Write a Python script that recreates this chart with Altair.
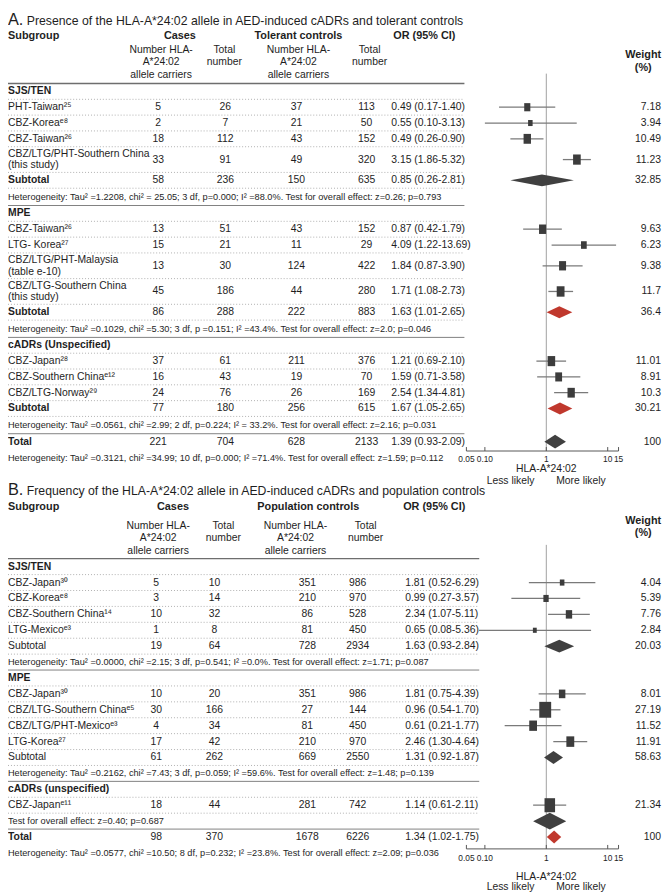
import altair as alt
import pandas as pd

# ======================= values =======================
A_letter = "A."
A_title = "Presence of the HLA-A*24:02 allele in AED-induced cADRs and tolerant controls"
A_ctrl_name = "Tolerant controls"
A_kind = ["group", "study", "study", "study", "study", "sub", "het",
          "group", "study", "study", "study", "study", "sub", "het",
          "group", "study", "study", "study", "sub", "het",
          "total", "het"]
A_label = [
    "SJS/TEN", "PHT-Taiwan²⁵", "\u00a0CBZ-Koreaᵉ⁸", "CBZ-Taiwan²⁶",
    "CBZ/LTG/PHT-Southern China\n\u00a0(this study)", "Subtotal",
    "Heterogeneity: Tau² =1.2208, chi² = 25.05; 3 df, p=0.000; I² =88.0%. Test for overall effect: z=0.26; p=0.793",
    "MPE", "CBZ-Taiwan²⁶", "LTG- Korea²⁷", "CBZ/LTG/PHT-Malaysia\n\u00a0(table e-10)",
    "CBZ/LTG-Southern China\n\u00a0(this study)", "Subtotal",
    "Heterogeneity: Tau² =0.1029, chi² =5.30; 3 df, p =0.151; I² =43.4%. Test for overall effect: z=2.0; p=0.046",
    "cADRs (Unspecified)", "CBZ-Japan²⁸", "CBZ-Southern Chinaᵉ¹²", "CBZ/LTG-Norway²⁹", "Subtotal",
    "Heterogeneity: Tau² =0.0561, chi² =2.99; 2 df, p=0.224; I² = 33.2%. Test for overall effect: z=2.16; p=0.031",
    "Total",
    "Heterogeneity: Tau² =0.3121, chi² =34.99; 10 df, p=0.000; I² =71.4%. Test for overall effect: z=1.59; p=0.112",
]
A_case_carriers = ["", "5", "2", "18", "33", "58", "", "", "13", "15", "13", "45", "86", "",
                   "", "37", "16", "24", "77", "", "221", ""]
A_case_total = ["", "26", "7", "112", "91", "236", "", "", "51", "21", "30", "186", "288", "",
                "", "61", "43", "76", "180", "", "704", ""]
A_ctrl_carriers = ["", "37", "21", "43", "49", "150", "", "", "43", "11", "124", "44", "222", "",
                   "", "211", "19", "26", "256", "", "628", ""]
A_ctrl_total = ["", "113", "50", "152", "320", "635", "", "", "152", "29", "422", "280", "883", "",
                "", "376", "70", "169", "615", "", "2133", ""]
A_or = [None, 0.49, 0.55, 0.49, 3.15, 0.85, None, None, 0.87, 4.09, 1.84, 1.71, 1.63, None,
        None, 1.21, 1.59, 2.54, 1.67, None, 1.39, None]
A_lo = [None, 0.17, 0.10, 0.26, 1.86, 0.26, None, None, 0.42, 1.22, 0.87, 1.08, 1.01, None,
        None, 0.69, 0.71, 1.34, 1.05, None, 0.93, None]
A_hi = [None, 1.40, 3.13, 0.90, 5.32, 2.81, None, None, 1.79, 13.69, 3.90, 2.73, 2.65, None,
        None, 2.10, 3.58, 4.81, 2.65, None, 2.09, None]
A_weight = ["", "7.18", "3.94", "10.49", "11.23", "32.85", "", "", "9.63", "6.23", "9.38", "11.7", "36.4", "",
            "", "11.01", "8.91", "10.3", "30.21", "", "100", ""]

B_letter = "B."
B_title = "Frequency of the HLA-A*24:02 allele in AED-induced cADRs and population controls"
B_ctrl_name = "Population controls"
B_kind = ["group", "study", "study", "study", "study", "sub", "het",
          "group", "study", "study", "study", "study", "sub", "het",
          "group", "study", "hetpool", "total", "het"]
B_label = [
    "SJS/TEN", "CBZ-Japan³⁰", "\u00a0CBZ-Koreaᵉ⁸", "CBZ-Southern China¹⁴", "LTG-Mexicoᵉ³", "\u00a0Subtotal",
    "\u00a0Heterogeneity: Tau² =0.0000, chi² =2.15; 3 df, p=0.541; I² =0.0%. Test for overall effect: z=1.71; p=0.087",
    "MPE", "CBZ-Japan³⁰", "CBZ/LTG-Southern Chinaᵉ⁵", "CBZ/LTG/PHT-Mexicoᵉ³", "\u00a0LTG-Korea²⁷", "\u00a0Subtotal",
    "Heterogeneity: Tau² =0.2162, chi² =7.43; 3 df, p=0.059; I² =59.6%. Test for overall effect: z=1.48; p=0.139",
    "cADRs (unspecified)", "CBZ-Japanᵉ¹¹",
    "\u00a0Test for overall effect: z=0.40; p=0.687",
    "Total",
    "\u00a0Heterogeneity: Tau² =0.0577, chi² =10.50; 8 df, p=0.232; I² =23.8%. Test for overall effect: z=2.09; p=0.036",
]
B_case_carriers = ["", "5", "3", "10", "1", "19", "", "", "10", "30", "4", "17", "61", "",
                   "", "18", "", "98", ""]
B_case_total = ["", "10", "14", "32", "8", "64", "", "", "20", "166", "34", "42", "262", "",
                "", "44", "", "370", ""]
B_ctrl_carriers = ["", "351", "210", "86", "81", "728", "", "", "351", "27", "81", "210", "669", "",
                   "", "281", "", "1678", ""]
B_ctrl_total = ["", "986", "970", "528", "450", "2934", "", "", "986", "144", "450", "970", "2550", "",
                "", "742", "", "6226", ""]
B_or = [None, 1.81, 0.99, 2.34, 0.65, 1.63, None, None, 1.81, 0.96, 0.61, 2.46, 1.31, None,
        None, 1.14, 1.14, 1.34, None]
B_lo = [None, 0.52, 0.27, 1.07, 0.08, 0.93, None, None, 0.75, 0.54, 0.21, 1.30, 0.92, None,
        None, 0.61, 0.61, 1.02, None]
B_hi = [None, 6.29, 3.57, 5.11, 5.36, 2.84, None, None, 4.39, 1.70, 1.77, 4.64, 1.87, None,
        None, 2.11, 2.11, 1.75, None]
B_weight = ["", "4.04", "5.39", "7.76", "2.84", "20.03", "", "", "8.01", "27.19", "11.52", "11.91", "58.63", "",
            "", "21.34", "", "100", ""]

hdr_subgroup = "Subgroup"
hdr_cases = "Cases"
hdr_or = "OR (95% CI)"
hdr_carriers = ["Number HLA-", "A*24:02", "allele carriers"]
hdr_total = ["Total", "number"]
hdr_weight = ["Weight", "(%)"]

axis_ticks = [0.05, 0.1, 1, 10, 15]
axis_tick_labels = ["0.05", "0.10", "1", "10", "15"]
axis_title = "HLA-A*24:02"
axis_left = "Less likely"
axis_right = "More likely"

# ======================= layout / style =======================
W, H = 662, 888
FONT = "Liberation Sans"
TXT = "#1e1e1e"
ROW_FS, HET_FS, HDR_FS, TITLE_FS = 10.5, 9.3, 11, 12.4
LINE_GAP = 12

yscale = alt.Scale(domain=[0, H], range=[0, H])
xscale = alt.Scale(type="log", domain=[0.05, 15], range=[464, 618], nice=False)

STYLE = {
    "A": dict(letter=A_letter, title=A_title, ctrl=A_ctrl_name, title_y=7, hdr_y=23, sub_y=[37, 49.5, 62],
              w_y=[42, 55], top=71, h1=16, h2=26, hh=17.5, line_end=462,
              cols=[152, 220, 292, 363], hcols=[155, 219, 294, 366], cases_x=174, ctrl_x=294,
              or_x=388, or_hx=390, sub_bold=True,
              diamond={"sub": 6, "total": 7}, axis_gap=9.5, tick_lab=8, ax_title=18, ax_sub=30, ref_top=61),
    "B": dict(letter=B_letter, title=B_title, ctrl=B_ctrl_name, title_y=483, hdr_y=500, sub_y=[519, 531.5, 544],
              w_y=[514, 526], top=552, h1=16.1, h2=26, hh=16.1, line_end=477,
              cols=[150, 209, 303, 354], hcols=[152, 218, 291, 362], cases_x=167, ctrl_x=304,
              or_x=402, or_hx=400, sub_bold=False,
              diamond={"sub": 6.5, "hetpool": 8.5, "total": 6.5}, axis_gap=12, tick_lab=9, ax_title=28, ax_sub=39,
              ref_top=538),
}
PANELS = {
    "A": (A_kind, A_label, A_case_carriers, A_case_total, A_ctrl_carriers, A_ctrl_total, A_or, A_lo, A_hi, A_weight),
    "B": (B_kind, B_label, B_case_carriers, B_case_total, B_ctrl_carriers, B_ctrl_total, B_or, B_lo, B_hi, B_weight),
}


def Y(f="y"):
    return alt.Y(f"{f}:Q", scale=yscale, axis=None)


def X(f):
    return alt.X(f"{f}:Q", scale=xscale, axis=None)


def fixed_text(text, x, y, size=ROW_FS, bold=False, align="left"):
    return alt.Chart(pd.DataFrame({"t": [text]})).mark_text(
        align=align, baseline="middle", font=FONT, fontSize=size,
        fontWeight="bold" if bold else "normal", color=TXT
    ).encode(x=alt.value(x), y=alt.value(y), text="t:N")


back_layers, mark_layers, text_layers = [], [], []

for P, (kind, label, c1, c2, c3, c4, orv, lo, hi, wt) in PANELS.items():
    st = STYLE[P]
    rows, lines, seps, bars, pts, dia = [], [], [], [], [], []
    ytop = st["top"]
    for i, k in enumerate(kind):
        parts = label[i].split("\n")
        n = len(parts)
        h = st["hh"] if k.startswith("het") else (st["h2"] if n > 1 else st["h1"])
        yc = ytop + h / 2
        ybot = ytop + h
        ytop = ybot
        bold = k in ("group", "total") or (k == "sub" and st["sub_bold"])
        for j, s in enumerate(parts):
            lines.append(dict(y=yc + (j - (n - 1) / 2) * LINE_GAP, t=s,
                              style="het" if k.startswith("het") else ("bold" if bold else "normal")))
        ortxt = ""
        if orv[i] is not None and k in ("study", "sub", "total"):
            ortxt = f"{orv[i]:.2f} ({lo[i]:.2f}-{hi[i]:.2f})"
        rows.append(dict(y=yc, c1=c1[i], c2=c2[i], c3=c3[i], c4=c4[i], ort=ortxt, w=wt[i]))
        last = i == len(kind) - 1
        if not last and k != "total":
            seps.append(dict(y=ybot, kind="solid" if k.startswith("het") else "dot"))
        if orv[i] is not None:
            if k == "study":
                bars.append(dict(y=yc, lo=lo[i], hi=hi[i]))
                pts.append(dict(y=yc, orv=orv[i], w=float(wt[i])))
            else:
                hh_ = st["diamond"][k]
                col = "red" if (lo[i] > 1 or hi[i] < 1) else "dark"
                did = f"{P}{i}"
                dia += [dict(id=did, x=lo[i], ya=yc, yb=yc, col=col),
                        dict(id=did, x=orv[i], ya=yc - hh_, yb=yc + hh_, col=col),
                        dict(id=did, x=hi[i], ya=yc, yb=yc, col=col)]
        if k == "total":
            total_y = yc

    rows = pd.DataFrame(rows)
    lines = pd.DataFrame(lines)
    seps = pd.DataFrame(seps)
    y_axis = total_y + st["axis_gap"]

    # separators
    back_layers.append(
        alt.Chart(pd.DataFrame({"y": [st["top"]]})).mark_rule(color="#6e6e6e", strokeWidth=1.3)
        .encode(x=alt.value(0), x2=alt.value(st["line_end"]), y=Y()))
    back_layers.append(
        alt.Chart(seps[seps.kind == "dot"]).mark_rule(color="#b0b0b0", strokeWidth=1, strokeDash=[1, 2])
        .encode(x=alt.value(0), x2=alt.value(st["line_end"]), y=Y()))
    back_layers.append(
        alt.Chart(seps[seps.kind == "solid"]).mark_rule(color="#808080", strokeWidth=1)
        .encode(x=alt.value(0), x2=alt.value(st["line_end"]), y=Y()))
    # reference line at OR = 1
    back_layers.append(
        alt.Chart(pd.DataFrame({"x": [1], "y": [st["ref_top"]], "y2": [y_axis]}))
        .mark_rule(color="#a0a0a0", strokeWidth=1)
        .encode(x=X("x"), y=Y("y"), y2=alt.Y2("y2")))
    # axis
    back_layers.append(
        alt.Chart(pd.DataFrame({"x": [axis_ticks[0]], "x2": [axis_ticks[-1]], "y": [y_axis]}))
        .mark_rule(color="#555555", strokeWidth=1)
        .encode(x=X("x"), x2=alt.X2("x2"), y=Y("y")))
    tick_df = pd.DataFrame({"x": axis_ticks, "lab": axis_tick_labels,
                            "y": [y_axis] * len(axis_ticks), "y2": [y_axis - 4] * len(axis_ticks),
                            "yl": [y_axis + st["tick_lab"]] * len(axis_ticks)})
    back_layers.append(
        alt.Chart(tick_df).mark_rule(color="#555555", strokeWidth=1)
        .encode(x=X("x"), y=Y("y"), y2=alt.Y2("y2")))
    text_layers.append(
        alt.Chart(tick_df).mark_text(font=FONT, fontSize=8.5, color=TXT, baseline="middle")
        .encode(x=X("x"), y=Y("yl"), text="lab:N"))
    lab_df = pd.DataFrame({"x": [1], "t1": [axis_title], "t2": [axis_left], "t3": [axis_right],
                           "y1": [y_axis + st["ax_title"]], "y2": [y_axis + st["ax_sub"]]})
    text_layers.append(alt.Chart(lab_df).mark_text(font=FONT, fontSize=10.5, color=TXT, baseline="middle")
                       .encode(x=X("x"), y=Y("y1"), text="t1:N"))
    text_layers.append(alt.Chart(lab_df).mark_text(font=FONT, fontSize=10.5, color=TXT, baseline="middle",
                                                   align="right", dx=-12)
                       .encode(x=X("x"), y=Y("y2"), text="t2:N"))
    text_layers.append(alt.Chart(lab_df).mark_text(font=FONT, fontSize=10.5, color=TXT, baseline="middle",
                                                   align="left", dx=10)
                       .encode(x=X("x"), y=Y("y2"), text="t3:N"))

    # forest marks
    mark_layers.append(
        alt.Chart(pd.DataFrame(bars)).mark_rule(color="#7a7a7a", strokeWidth=1.3)
        .encode(x=X("lo"), x2=alt.X2("hi"), y=Y()))
    mark_layers.append(
        alt.Chart(pd.DataFrame(pts)).mark_point(shape="M-0.75,-1L0.75,-1L0.75,1L-0.75,1Z",
                                                filled=True, opacity=1, color="#3c3c3c", strokeWidth=0)
        .encode(x=X("orv"), y=Y(),
                size=alt.Size("w:Q", scale=alt.Scale(domain=[0, 30], range=[0, 285]), legend=None)))
    mark_layers.append(
        alt.Chart(pd.DataFrame(dia)).mark_area(orient="vertical", opacity=1)
        .encode(x=X("x"), y=Y("ya"), y2=alt.Y2("yb"), detail="id:N",
                color=alt.Color("col:N", scale=alt.Scale(domain=["dark", "red"],
                                                          range=["#404040", "#c0382d"]), legend=None)))

    # row texts
    for sty, fs, fw in (("normal", ROW_FS, "normal"), ("bold", ROW_FS, "bold"), ("het", HET_FS, "normal")):
        text_layers.append(
            alt.Chart(lines[lines["style"] == sty]).mark_text(
                align="left", baseline="middle", font=FONT, fontSize=fs, fontWeight=fw, color=TXT)
            .encode(x=alt.value(0), y=Y(), text="t:N"))
    for col, cx in zip(["c1", "c2", "c3", "c4"], st["cols"]):
        text_layers.append(
            alt.Chart(rows).mark_text(align="center", baseline="middle", font=FONT, fontSize=ROW_FS, color=TXT)
            .encode(x=alt.value(cx), y=Y(), text=f"{col}:N"))
    text_layers.append(
        alt.Chart(rows).mark_text(align="left", baseline="middle", font=FONT, fontSize=ROW_FS, color=TXT)
        .encode(x=alt.value(st["or_x"]), y=Y(), text="ort:N"))
    text_layers.append(
        alt.Chart(rows).mark_text(align="right", baseline="middle", font=FONT, fontSize=ROW_FS, color=TXT)
        .encode(x=alt.value(661), y=Y(), text="w:N"))

    # headers
    text_layers.append(fixed_text(st["letter"], 0, st["title_y"], size=16.5))
    text_layers.append(fixed_text(st["title"], 19, st["title_y"] + 1, size=TITLE_FS))
    text_layers.append(fixed_text(hdr_subgroup, 0, st["hdr_y"], size=HDR_FS, bold=True))
    text_layers.append(fixed_text(hdr_cases, st["cases_x"], st["hdr_y"], size=HDR_FS, bold=True, align="center"))
    text_layers.append(fixed_text(st["ctrl"], st["ctrl_x"], st["hdr_y"], size=HDR_FS, bold=True, align="center"))
    text_layers.append(fixed_text(hdr_or, st["or_hx"], st["hdr_y"], size=HDR_FS, bold=True))
    for cx, lst in zip(st["hcols"], [hdr_carriers, hdr_total, hdr_carriers, hdr_total]):
        for j, s in enumerate(lst):
            text_layers.append(fixed_text(s, cx, st["sub_y"][j], align="center"))
    for j, s in enumerate(hdr_weight):
        text_layers.append(fixed_text(s, 643, st["w_y"][j], size=HDR_FS, bold=True, align="center"))

chart = alt.layer(*(back_layers + mark_layers + text_layers)).properties(
    width=W, height=H, padding=0, autosize=alt.AutoSizeParams(type="none")
).configure_view(stroke=None)

chart.save("out.html", embed_options={"renderer": "svg", "actions": False})
